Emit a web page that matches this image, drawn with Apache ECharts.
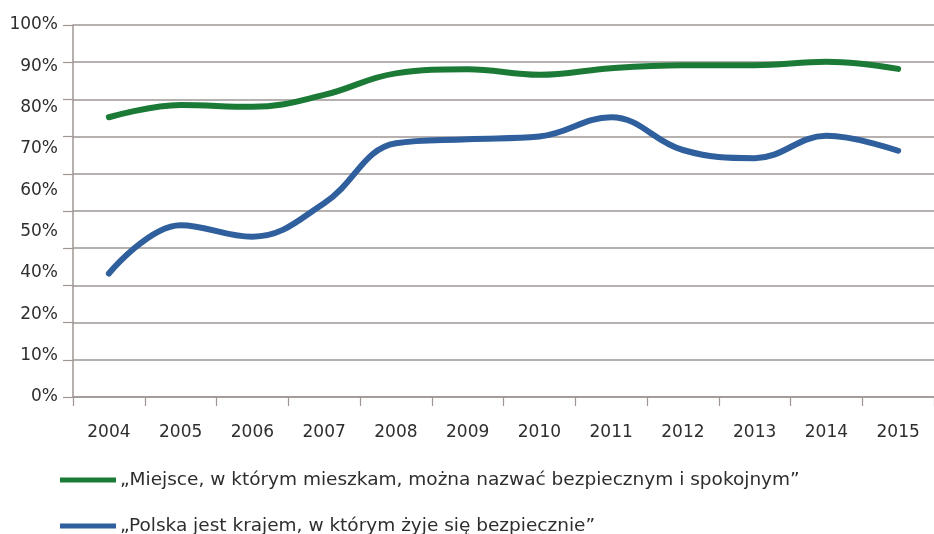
<!DOCTYPE html>
<html>
<head>
<meta charset="utf-8">
<script src="https://cdn.jsdelivr.net/npm/echarts@6/dist/echarts.min.js"></script>
<style>
  html, body { margin: 0; padding: 0; background: #ffffff; }
  #chart { width: 934px; height: 534px; }
</style>
</head>
<body>
<div id="chart"></div>
<script>
// Survey years
const years = ['2004', '2005', '2006', '2007', '2008', '2009', '2010', '2011', '2012', '2013', '2014', '2015'];

// Share of respondents (%) agreeing with each statement
const localSafe = [75.2, 78.5, 78.0, 81.2, 87.0, 88.1, 86.6, 88.4, 89.2, 89.2, 90.1, 88.2];
const countrySafe = [33.2, 46.2, 43.1, 52.1, 68.2, 69.3, 70.0, 75.2, 66.4, 64.2, 70.2, 66.2];

const seriesNames = [
  '\u201EMiejsce, w kt\u00F3rym mieszkam, mo\u017Cna nazwa\u0107 bezpiecznym i spokojnym\u201D',
  '\u201EPolska jest krajem, w kt\u00F3rym \u017Cyje si\u0119 bezpiecznie\u201D'
];

// Printed scale labels, bottom to top
const yLabels = ['0%', '10%', '20%', '40%', '50%', '60%', '70%', '80%', '90%', '100%'];

const FONT = '"DejaVu Sans", sans-serif';
const TEXT = '#2e2e2e';
const GRIDC = '#9e9693';

// One legend row per series, stacked under the plot
function legendRow(name, top) {
  return {
    orient: 'horizontal',
    left: 60,
    top: top,
    padding: 0,
    itemWidth: 56,
    itemHeight: 5,
    icon: 'rect',
    textStyle: { fontFamily: FONT, fontSize: 18.5, lineHeight: 20, color: TEXT, padding: [0, 0, 0, -1] },
    data: [name]
  };
}

const chart = echarts.init(document.getElementById('chart'), null, { renderer: 'canvas' });

chart.setOption({
  backgroundColor: '#ffffff',
  animation: false,
  grid: { left: 73, right: -5, top: 25, bottom: 137, containLabel: false },
  legend: [legendRow(seriesNames[0], 470), legendRow(seriesNames[1], 516)],
  xAxis: {
    type: 'category',
    data: years,
    boundaryGap: true,
    axisLine: { show: true, lineStyle: { color: GRIDC, width: 1.5 } },
    axisTick: { show: true, length: 9, lineStyle: { color: GRIDC, width: 1.2 } },
    axisLabel: { margin: 27, fontFamily: FONT, fontSize: 17, color: TEXT },
    splitLine: { show: false }
  },
  yAxis: [
    {
      type: 'value',
      min: 0,
      max: 100,
      interval: 10,
      axisLine: { show: true, lineStyle: { color: GRIDC, width: 1.5 } },
      axisTick: { show: true, length: 10, lineStyle: { color: GRIDC, width: 1.2 } },
      axisLabel: { show: false },
      splitLine: { show: true, lineStyle: { color: GRIDC, width: 1.5 } }
    },
    {
      type: 'value',
      position: 'left',
      min: 0,
      max: 9,
      interval: 1,
      axisLine: { show: false },
      axisTick: { show: false },
      splitLine: { show: false },
      axisLabel: {
        margin: 15,
        padding: [5, 0, 0, 0],
        fontFamily: FONT,
        fontSize: 17,
        color: TEXT,
        formatter: function (v) { return yLabels[Math.round(v)]; }
      }
    }
  ],
  series: [
    {
      name: seriesNames[0],
      type: 'line',
      yAxisIndex: 0,
      data: localSafe,
      smooth: 0.4,
      symbol: 'none',
      color: '#1b7a36',
      lineStyle: { width: 6, color: '#1b7a36', cap: 'round' }
    },
    {
      name: seriesNames[1],
      type: 'line',
      yAxisIndex: 0,
      data: countrySafe,
      smooth: 0.4,
      symbol: 'none',
      color: '#2f5f9c',
      lineStyle: { width: 6, color: '#2f5f9c', cap: 'round' }
    }
  ]
});
</script>
</body>
</html>
